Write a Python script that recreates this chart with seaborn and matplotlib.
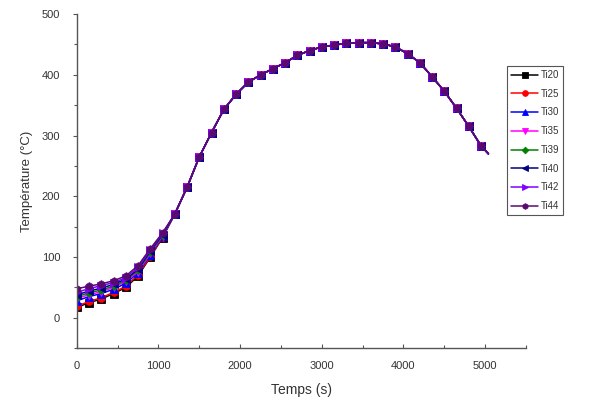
import numpy as np
import pandas as pd
import seaborn as sns
import matplotlib.pyplot as plt
from matplotlib.ticker import MultipleLocator

# Time axis (s): markers every 150 s, line runs on to the last sample
temps = [0, 150, 300, 450, 600, 750, 900, 1050, 1200, 1350, 1500, 1650, 1800,
         1950, 2100, 2250, 2400, 2550, 2700, 2850, 3000, 3150, 3300, 3450,
         3600, 3750, 3900, 4050, 4200, 4350, 4500, 4650, 4800, 4950, 5040]

# shared part of the curve (from 1200 s on)
tail = [171, 215, 265, 305, 343, 368, 388, 400, 410, 420, 432, 440, 446, 449,
        452, 453, 453, 451, 446, 435, 420, 397, 373, 345, 315, 283, 270]

ti20 = [17, 25, 31, 40, 50, 69, 100, 132] + tail
ti25 = [19, 27, 33, 42, 52, 71, 101, 133] + tail
ti30 = [28, 35, 40, 47, 57, 74, 104, 134] + tail
ti35 = [32, 38, 43, 50, 60, 76, 106, 135] + tail
ti39 = [35, 41, 46, 52, 62, 78, 108, 136] + tail
ti40 = [38, 44, 49, 55, 64, 80, 110, 137] + tail
ti42 = [42, 48, 53, 58, 66, 83, 112, 139] + tail
ti44 = [48, 52, 56, 61, 69, 86, 114, 140] + tail

labels = ['Ti20', 'Ti25', 'Ti30', 'Ti35', 'Ti39', 'Ti40', 'Ti42', 'Ti44']
series = [ti20, ti25, ti30, ti35, ti39, ti40, ti42, ti44]
colors = ['#000000', '#ff0000', '#0000ff', '#ff00ff', '#008000', '#000080', '#8000ff', '#5a0a6e']
markers = ['s', 'o', '^', 'v', 'D', '<', '>', 'h']

sns.set_style('ticks')
plt.rcParams['font.family'] = ['Liberation Sans', 'DejaVu Sans']

fig = plt.figure(figsize=(5.91, 4.03), dpi=100)
ax = fig.add_axes([0.130, 0.136, 0.760, 0.829])

n_mark = len(temps) - 1
for lab, vals, c, m in zip(labels, series, colors, markers):
    df = pd.DataFrame({'t': temps, 'T': vals})
    sns.lineplot(data=df, x='t', y='T', ax=ax, color=c, marker=m, markersize=5.5 if m != 'D' else 4.5,
                 markeredgewidth=0.6, markeredgecolor=c, linewidth=1.1, label=lab,
                 markevery=list(range(n_mark)))

ax.set_xlim(0, 5500)
ax.set_ylim(-50, 500)
ax.xaxis.set_major_locator(MultipleLocator(1000))
ax.xaxis.set_minor_locator(MultipleLocator(500))
ax.yaxis.set_major_locator(MultipleLocator(100))
ax.yaxis.set_minor_locator(MultipleLocator(50))
ax.set_xticks([0, 1000, 2000, 3000, 4000, 5000])
ax.tick_params(axis='x', which='both', direction='in', length=3, width=0.8, colors='#555555',
               labelsize=8, labelcolor='#333333', pad=9)
ax.tick_params(axis='x', which='minor', length=2)
ax.tick_params(axis='y', which='both', direction='out', length=3, width=0.8, colors='#555555',
               labelsize=8, labelcolor='#333333', pad=9)
ax.tick_params(axis='y', which='minor', length=2)
sns.despine(ax=ax)
for s in ['left', 'bottom']:
    ax.spines[s].set_color('#555555')
    ax.spines[s].set_linewidth(1.0)

ax.set_xlabel('Temps (s)', fontsize=10, color='#333333', labelpad=9)
ax.set_ylabel('Température (°C)', fontsize=9.5, color='#333333', labelpad=6)

ax.get_legend().remove()
h, l = ax.get_legend_handles_labels()
leg = fig.legend(h, l, loc='upper left', bbox_to_anchor=(0.858, 0.836), fontsize=7,
                 frameon=True, fancybox=False, edgecolor='#555555', framealpha=1,
                 handlelength=2.8, labelspacing=0.9, handletextpad=0.3, borderpad=0.4,
                 borderaxespad=0, markerscale=0.75)
leg.get_frame().set_linewidth(0.8)
for t in leg.get_texts():
    t.set_color('#333333')

fig.savefig('out.png', dpi=100)
